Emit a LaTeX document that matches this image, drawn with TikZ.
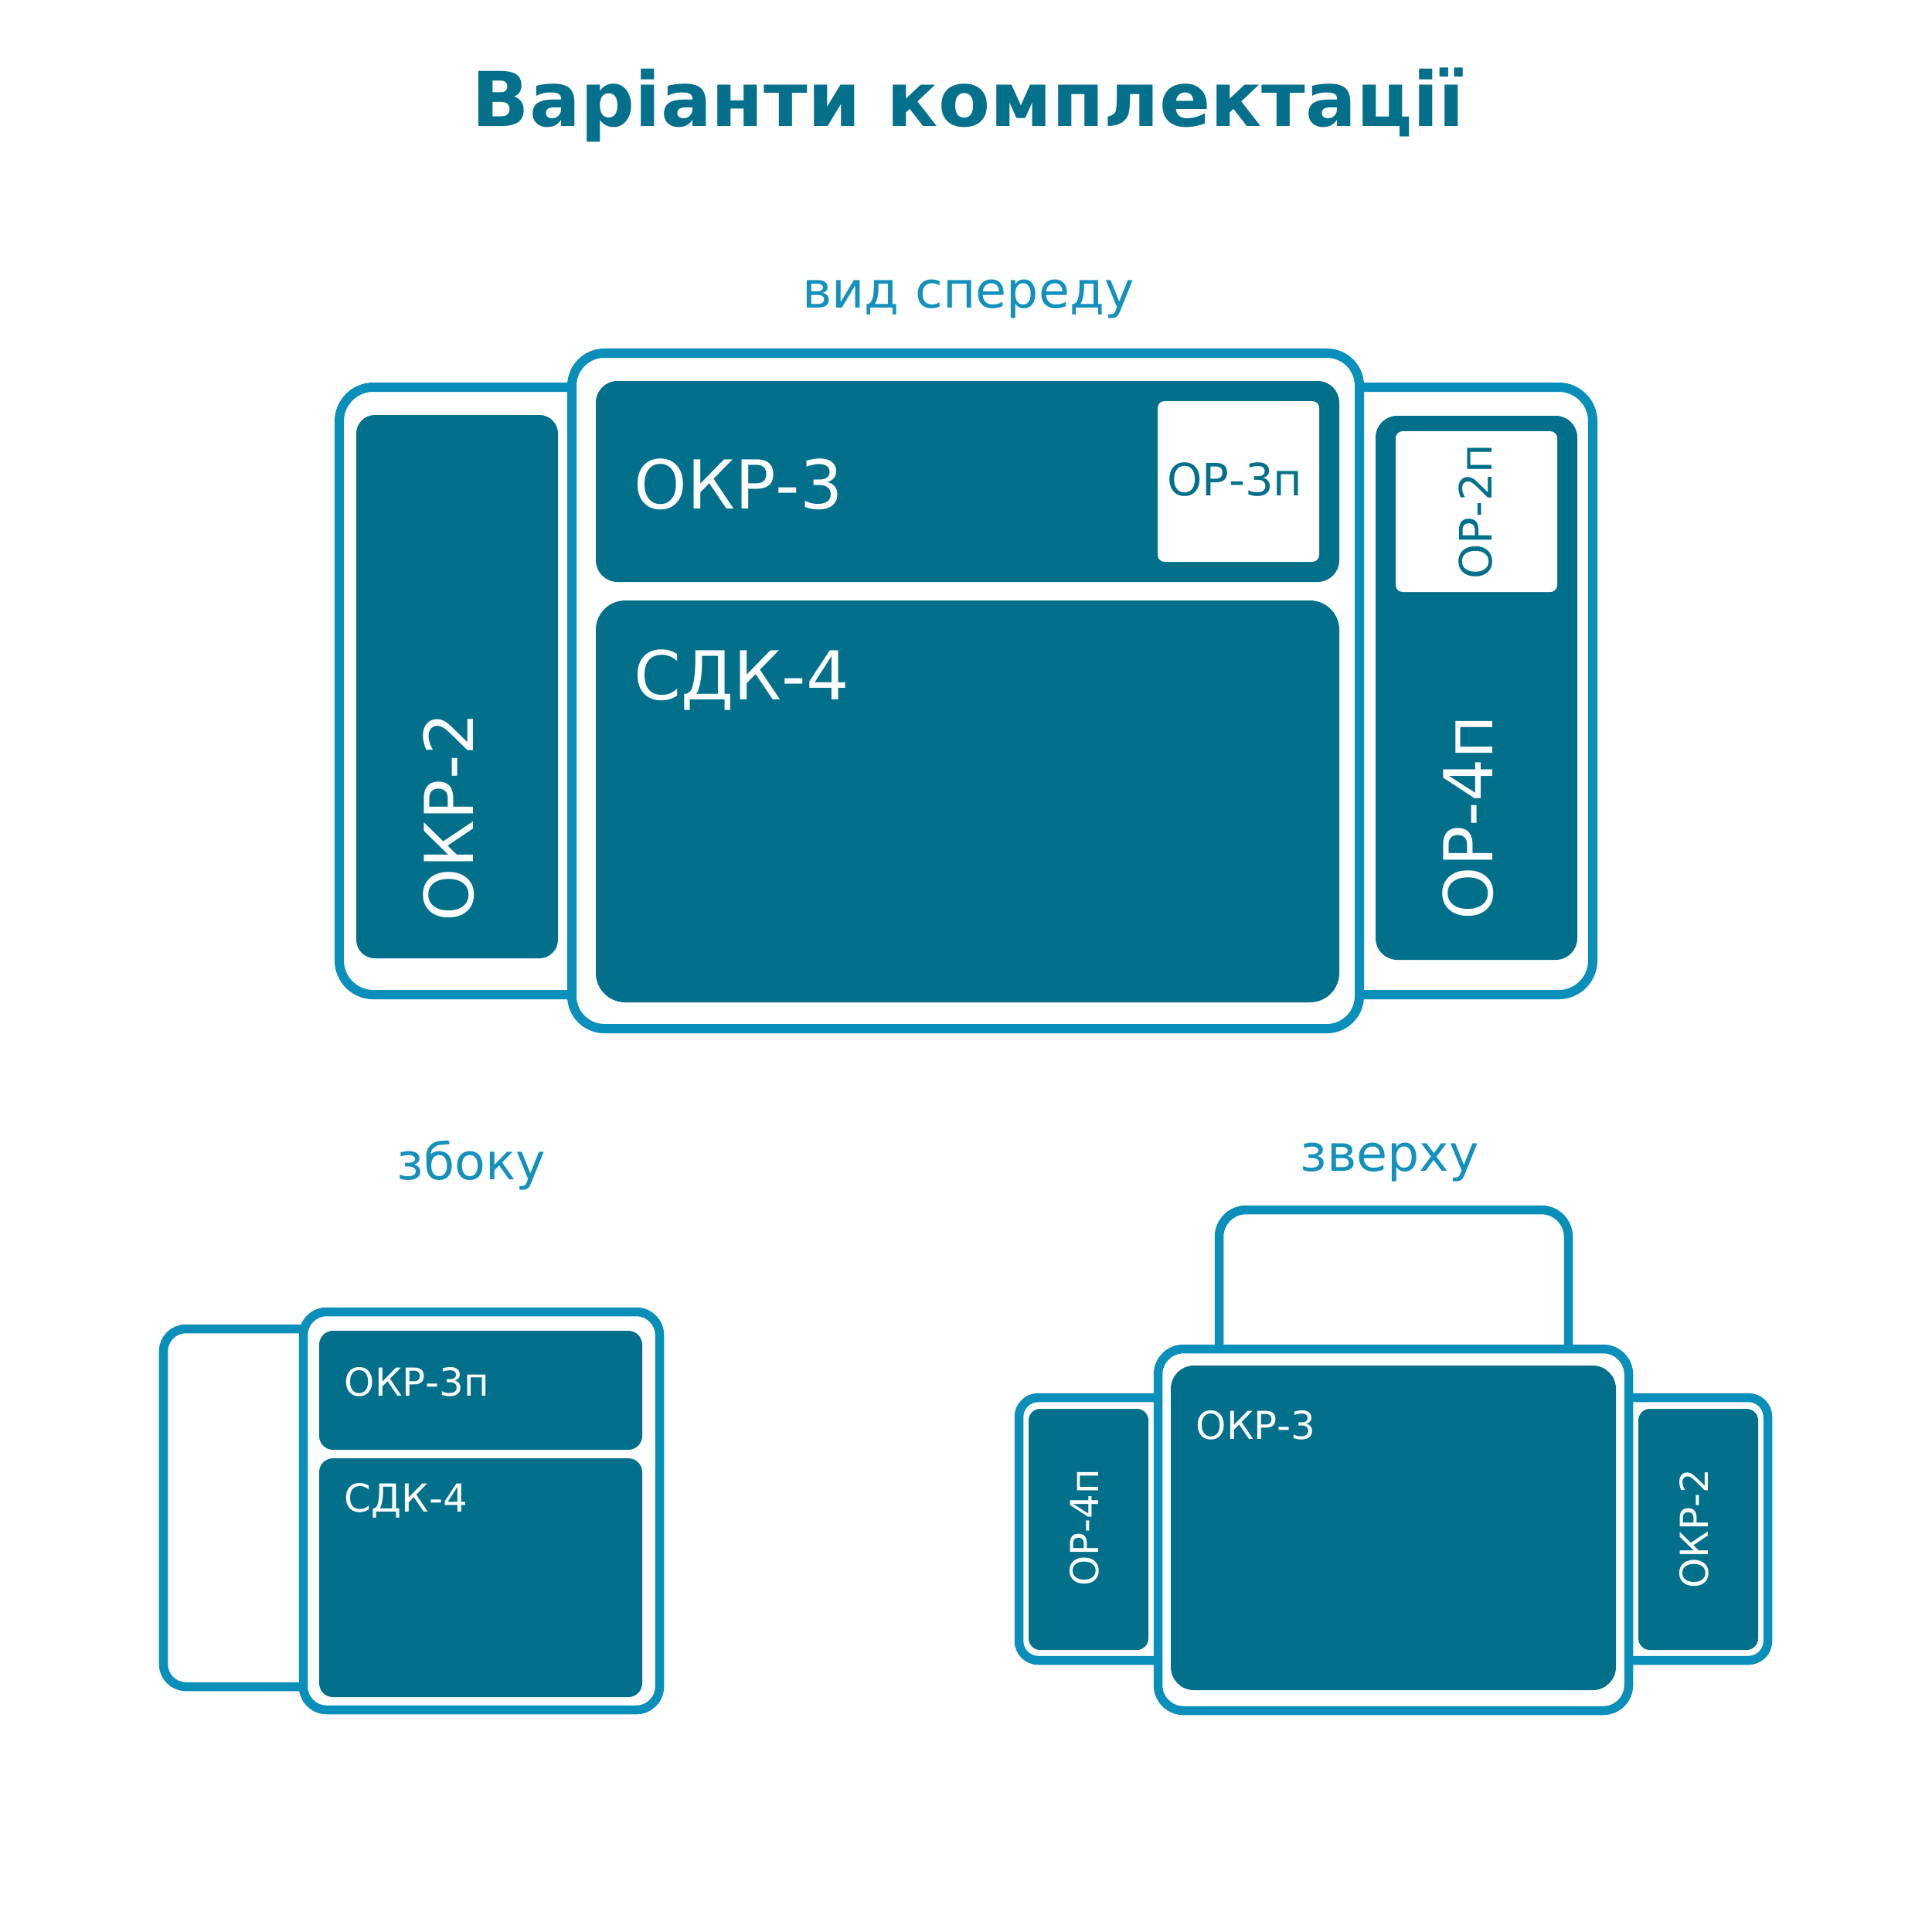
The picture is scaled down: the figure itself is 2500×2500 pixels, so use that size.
\documentclass[tikz,border=0pt]{standalone}
\usepackage{fontspec}
\setmainfont{DejaVu Sans}
\definecolor{darkfill}{HTML}{02708A}
\definecolor{framec}{HTML}{0A8EBA}
\definecolor{titlec}{HTML}{04708B}
\definecolor{subc}{HTML}{1490BD}
\tikzset{
  frameF/.style={draw=framec, fill=white, line width=0.12cm},
  frameS/.style={draw=framec, fill=white, line width=0.115cm},
  darkbox/.style={fill=darkfill},
  whitebox/.style={fill=white, rounded corners=0.09cm},
  titlet/.style={text=titlec, font=\fontsize{27.8}{32}\selectfont\bfseries, inner sep=0pt},
  subt/.style={text=subc, font=\fontsize{18.5}{22}\selectfont, inner sep=0pt},
  biglbl/.style={text=white, font=\fontsize{24.8}{29}\selectfont, inner sep=0pt},
  medlbl/.style={text=darkfill, font=\fontsize{16.4}{19}\selectfont, inner sep=0pt},
  smalllbl/.style={text=white, font=\fontsize{14.2}{17}\selectfont, inner sep=0pt}
}
\begin{document}
\begin{tikzpicture}[x=0.01cm,y=-0.01cm]
\useasboundingbox (0,0) rectangle (2500,2500);
\fill[white] (0,0) rectangle (2500,2500);

% titles
\node[titlet, anchor=base] (title) at (1253,163) {Варіанти комплектації};
\node[subt, anchor=base] (fronttitle) at (1253,398) {вид спереду};
\node[subt, anchor=base] (sidetitle) at (610,1526) {збоку};
\node[subt, anchor=base] (toptitle) at (1798,1515) {зверху};

% ---------- front view ----------
\draw[frameF, rounded corners=0.44cm] (439,501) rectangle (900,1287);
\draw[frameF, rounded corners=0.44cm] (1600,501) rectangle (2061,1287);
\draw[frameF, rounded corners=0.42cm] (740,457) rectangle (1759,1331);
\fill[darkbox, rounded corners=0.24cm] (461,537) rectangle (722,1240);
\fill[darkbox, rounded corners=0.28cm] (771,493) rectangle (1733,753);
\fill[whitebox] (1498,519) rectangle (1707,727);
\fill[darkbox, rounded corners=0.38cm] (771,777) rectangle (1733,1297);
\fill[darkbox, rounded corners=0.28cm] (1780,538) rectangle (2041,1242);
\fill[whitebox] (1806,558) rectangle (2015,766);

\node[biglbl, anchor=base west] (okr3) at (820,658) {ОКР-3};
\node[biglbl, anchor=base west] (sdk4) at (820,905) {СДК-4};
\node[medlbl, anchor=base] (op3p) at (1598,641) {ОР-3п};
\node[medlbl, anchor=base, rotate=90] (op2p) at (1930,662) {ОР-2п};
\node[biglbl, anchor=base, rotate=90] (okr2) at (612,1057) {ОКР-2};
\node[biglbl, anchor=base, rotate=90] (op4p) at (1931,1058) {ОР-4п};

% ---------- side view ----------
\draw[frameS, rounded corners=0.29cm] (211.5,1719.5) rectangle (500,2182.5);
\draw[frameS, rounded corners=0.30cm] (392.5,1697.5) rectangle (853.5,2212.5);
\fill[darkbox, rounded corners=0.18cm] (413,1722) rectangle (831,1876);
\fill[darkbox, rounded corners=0.18cm] (413,1887) rectangle (831,2196);
\node[smalllbl, anchor=base west] (sokr3p) at (445,1806) {ОКР-3п};
\node[smalllbl, anchor=base west] (ssdk4) at (445,1956) {СДК-4};

% ---------- top view ----------
\draw[frameS, rounded corners=0.35cm] (1577.5,1565.5) rectangle (2029.5,1850);
\draw[frameS, rounded corners=0.25cm] (1318.5,1808.5) rectangle (1600,2148.5);
\draw[frameS, rounded corners=0.25cm] (2000,1808.5) rectangle (2287.5,2148.5);
\draw[frameS, rounded corners=0.33cm] (1498.5,1745.5) rectangle (2107.5,2213.5);
\fill[darkbox, rounded corners=0.30cm] (1515,1767) rectangle (2091,2187);
\fill[darkbox, rounded corners=0.15cm] (1331,1823) rectangle (1486,2135);
\fill[darkbox, rounded corners=0.15cm] (2120,1823) rectangle (2275,2135);
\node[smalllbl, anchor=base west] (tokr3) at (1547,1862) {ОКР-3};
\node[smalllbl, anchor=base, rotate=90] (top4p) at (1421,1977) {ОР-4п};
\node[smalllbl, anchor=base, rotate=90] (tokr2) at (2210,1978) {ОКР-2};
\end{tikzpicture}
\end{document}
